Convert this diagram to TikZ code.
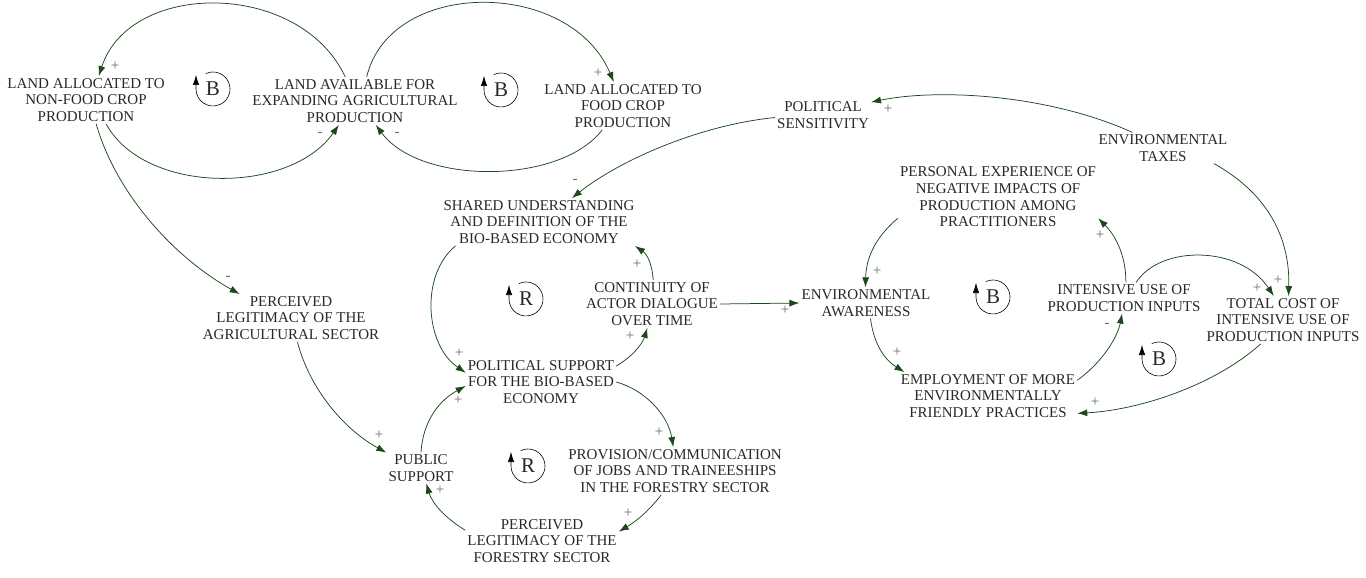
\documentclass[tikz,border=0pt]{standalone}
\usepackage{fontspec}
\setmainfont{Liberation Serif}
\usetikzlibrary{arrows.meta}
\definecolor{arr}{RGB}{28,72,28}
\definecolor{txt}{RGB}{40,40,40}
\definecolor{polc}{RGB}{105,105,105}
\begin{document}
\begin{tikzpicture}[x=1pt,y=-1pt,
 cvar/.style={align=center,font=\fontsize{15}{16.7}\selectfont,text=txt,inner sep=2pt},
 link/.style={draw=arr,line width=0.75pt,-{Latex[length=10pt,width=7pt]}},
 pol/.style={text=polc,font=\fontsize{15}{15}\selectfont,inner sep=0pt,text height=1.1ex,text depth=0pt},
 loopl/.style={font=\fontsize{21}{21}\selectfont,text=txt,inner sep=0pt},
 loopc/.style={draw=black,line width=0.6pt,-{Latex[length=10pt,width=6.5pt]}}]
\useasboundingbox (0,0) rectangle (1366,578);

% variables
\node[cvar] (LANDNF) at (86,100) {LAND ALLOCATED TO\\NON-FOOD CROP\\PRODUCTION};
\node[cvar] (LANDAV) at (355,101) {LAND AVAILABLE FOR\\EXPANDING AGRICULTURAL\\PRODUCTION};
\node[cvar] (LANDF) at (623,106) {LAND ALLOCATED TO\\FOOD CROP\\PRODUCTION};
\node[cvar] (POLSENS) at (823,115) {POLITICAL\\SENSITIVITY};
\node[cvar] (ENVTAX) at (1163,148) {ENVIRONMENTAL\\TAXES};
\node[cvar] (PERSEXP) at (998,197) {PERSONAL EXPERIENCE OF\\NEGATIVE IMPACTS OF\\PRODUCTION AMONG\\PRACTITIONERS};
\node[cvar] (SHARED) at (539,222) {SHARED UNDERSTANDING\\AND DEFINITION OF THE\\BIO-BASED ECONOMY};
\node[cvar] (CONT) at (652,304) {CONTINUITY OF\\ACTOR DIALOGUE\\OVER TIME};
\node[cvar] (ENVAW) at (866,303) {ENVIRONMENTAL\\AWARENESS};
\node[cvar] (INTUSE) at (1124,298) {INTENSIVE USE OF\\PRODUCTION INPUTS};
\node[cvar] (TOTCOST) at (1283,320) {TOTAL COST OF\\INTENSIVE USE OF\\PRODUCTION INPUTS};
\node[cvar] (EMPLOY) at (988,396) {EMPLOYMENT OF MORE\\ENVIRONMENTALLY\\FRIENDLY PRACTICES};
\node[cvar] (PERCAG) at (291,318) {PERCEIVED\\LEGITIMACY OF THE\\AGRICULTURAL SECTOR};
\node[cvar] (POLSUP) at (541,382) {POLITICAL SUPPORT\\FOR THE BIO-BASED\\ECONOMY};
\node[cvar] (PUBSUP) at (421,468) {PUBLIC\\SUPPORT};
\node[cvar] (PROV) at (675,471) {PROVISION/COMMUNICATION\\OF JOBS AND TRAINEESHIPS\\IN THE FORESTRY SECTOR};
\node[cvar] (PERCFOR) at (542,541) {PERCEIVED\\LEGITIMACY OF THE\\FORESTRY SECTOR};

% links
\draw[link] (LANDAV.112.6) .. controls (300,-20) and (130,-20) .. (LANDNF.62.6);
\draw[link] (LANDNF.-50) .. controls (145,195) and (290,195) .. (LANDAV.236.3);
\draw[link] (LANDAV.64.4) .. controls (390,-22) and (570,-22) .. (LANDF.111);
\draw[link] (LANDF.229.6) .. controls (560,185) and (420,185) .. (LANDAV.-49.2);
\draw[link] (ENVTAX.153.4) .. controls (1050,95) and (940,88) .. (POLSENS.15);
\draw[link] (POLSENS.183.4) .. controls (700,125) and (620,160) .. (SHARED.36.3);
\draw[link] (LANDNF.-67) .. controls (115,190) and (170,255) .. (PERCAG.155.9);
\draw[link] (PERCAG.-75.5) .. controls (310,390) and (345,430) .. (PUBSUP.156);
\draw[link] (SHARED.196.8) .. controls (420,275) and (425,345) .. (POLSUP.173.4);
\draw[link] (PUBSUP.90) .. controls (423,420) and (440,400) .. (POLSUP.183.7);
\draw[link] (POLSUP.12.5) .. controls (635,355) and (643,342) .. (CONT.259.5);
\draw[link] (CONT.87.6) .. controls (652,265) and (648,255) .. (SHARED.-14);
\draw[link] (CONT.east) -- (ENVAW.west);
\draw[link] (POLSUP.east) .. controls (645,390) and (668,415) .. (PROV.94.4);
\draw[link] (PROV.240) .. controls (648,512) and (635,522) .. (PERCFOR.7.7);
\draw[link] (PERCFOR.172) .. controls (445,518) and (432,503) .. (PUBSUP.-71.6);
\draw[link] (PERSEXP.192.4) .. controls (872,240) and (866,262) .. (ENVAW.92.7);
\draw[link] (ENVAW.-74.5) .. controls (874,345) and (885,360) .. (EMPLOY.164);
\draw[link] (EMPLOY.10.7) .. controls (1105,360) and (1118,335) .. (INTUSE.263.3);
\draw[link] (INTUSE.83.7) .. controls (1126,255) and (1115,235) .. (PERSEXP.-12.8);
\draw[link] (INTUSE.52) .. controls (1160,245) and (1240,245) .. (TOTCOST.111.8);
\draw[link] (ENVTAX.-17.6) .. controls (1270,195) and (1290,240) .. (TOTCOST.77.5);
\draw[link] (TOTCOST.227.2) .. controls (1215,385) and (1140,410) .. (EMPLOY.-11.3);

% polarities
\node[pol] (p1) at (115,68) {+};
\node[pol] (p2) at (320,134) {-};
\node[pol] (p3) at (598,75) {+};
\node[pol] (p4) at (397,134) {-};
\node[pol] (p5) at (888,111) {+};
\node[pol] (p6) at (575,181) {-};
\node[pol] (p7) at (228,278) {-};
\node[pol] (p8) at (379,437) {+};
\node[pol] (p9) at (459,355) {+};
\node[pol] (p10) at (458,402) {+};
\node[pol] (p11) at (630,338) {+};
\node[pol] (p12) at (637,266) {+};
\node[pol] (p13) at (785,312) {+};
\node[pol] (p14) at (659,434) {+};
\node[pol] (p15) at (628,515) {+};
\node[pol] (p16) at (440,492) {+};
\node[pol] (p17) at (877,273) {+};
\node[pol] (p18) at (897,354) {+};
\node[pol] (p19) at (1107,325) {-};
\node[pol] (p20) at (1100,237) {+};
\node[pol] (p21) at (1257,290) {+};
\node[pol] (p22) at (1278,282) {+};
\node[pol] (p23) at (1095,404) {+};

% loop markers
\foreach \n/\px/\py/\l in {L1/212/89/B, L2/500/90/B, L3/525/299/R, L4/527/466/R, L5/992/297/B, L6/1158/359/B}{
  \node[loopl] (\n) at (\px+1,\py) {\l};
  \draw[loopc,y=1pt] (\n.center) ++(115:17) arc[start angle=115,delta angle=-295,radius=17] -- ++(0,14);
}
\end{tikzpicture}
\end{document}
